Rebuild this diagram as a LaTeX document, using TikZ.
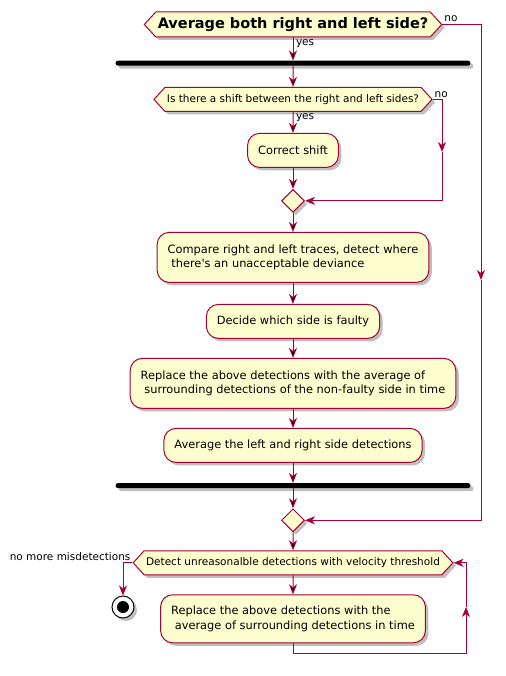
\documentclass[tikz,border=0pt]{standalone}
\usepackage{fontspec}
\setmainfont{DejaVu Sans}
\usetikzlibrary{positioning,shapes.symbols,shapes.geometric,arrows.meta,shadows}
\definecolor{umlred}{HTML}{A80036}
\definecolor{umlfill}{HTML}{FEFECE}

\begin{document}
\begin{tikzpicture}[x=1pt, y=-1pt, node distance=20pt,
    shade box/.style={drop shadow={shadow xshift=3pt, shadow yshift=-3pt, opacity=0.25, fill=black}},
    act node/.style={rectangle, rounded corners=12pt, draw=umlred, fill=umlfill, line width=1pt,
                     inner xsep=10.5pt, inner ysep=0pt, minimum height=34pt, align=left,
                     font=\fontsize{11.4}{14.3}\selectfont, shade box},
    test node/.style={signal, signal to=west and east, signal pointer angle=95, draw=umlred,
                      fill=umlfill, line width=1pt, inner xsep=2pt, inner ysep=0pt,
                      minimum height=24pt, font=\fontsize{10.5}{12.5}\selectfont, shade box},
    merge node/.style={diamond, draw=umlred, fill=umlfill, line width=1pt, inner sep=0pt,
                       minimum width=23pt, minimum height=23pt, shade box},
    bar node/.style={rectangle, fill=black, rounded corners=2.5pt, inner sep=0pt,
                     minimum width=355pt, minimum height=5pt, shade box},
    stop node/.style={circle, draw=black, fill=white, line width=1pt, inner sep=0pt,
                      minimum size=22pt, shade box,
                      path picture={\fill[black] (path picture bounding box.center) circle (6pt);}},
    label node/.style={font=\fontsize{10.5}{12.5}\selectfont, inner sep=1.5pt},
    flow/.style={draw=umlred, line width=1pt, -{Stealth[length=10pt, width=8pt, inset=3pt]}}]

  \useasboundingbox (0,0) rectangle (505,676);

  \node[test node, minimum height=25pt, font=\fontsize{14.5}{17}\selectfont\bfseries] (d1) at (293,24.5)
       {Average both right and left side?};
  \node[bar node] (bar1) [below=23pt of d1] {};
  \node[test node] (d2) [below=21pt of bar1] {Is there a shift between the right and left sides?};
  \node[act node] (shift) [below=21pt of d2] {Correct shift};
  \node[merge node] (m1) [below=21pt of shift] {};
  \node[act node, minimum height=50pt] (cmp) [below=19pt of m1]
       {Compare right and left traces, detect where\\\hspace*{0.32em}there\textquotesingle s an unacceptable deviance};
  \node[act node] (fault) [below=21pt of cmp] {Decide which side is faulty};
  \node[act node, minimum height=50pt] (rep1) [below=19pt of fault]
       {Replace the above detections with the average of\\\hspace*{0.32em}surrounding detections of the non-faulty side in time};
  \node[act node] (avg) [below=19pt of rep1] {Average the left and right side detections};
  \node[bar node] (bar2) [below=20pt of avg] {};
  \node[merge node] (m2) [below=20pt of bar2] {};
  \node[test node] (d3) [below=18pt of m2] {Detect unreasonalble detections with velocity threshold};
  \node[act node, minimum height=48pt] (rep2) [below=19pt of d3]
       {Replace the above detections with the\\\hspace*{0.32em}average of surrounding detections in time};
  \node[stop node] (stop) at (123,607) {};

  \coordinate (c1) at (481,280);
  \coordinate (c2) at (442,152);
  \coordinate (c3) at (466,607);
  \coordinate (lp) at ([yshift=-10pt]rep2.south);

  \path[flow]
    (d1) edge node[label node, pos=0, anchor=north west, xshift=1pt] {yes} (bar1)
    (bar1) edge (d2)
    (d2) edge node[label node, pos=0, anchor=north west, xshift=1pt] {yes} (shift)
    (shift) edge (m1)
    (m1) edge (cmp)
    (cmp) edge (fault)
    (fault) edge (rep1)
    (rep1) edge (avg)
    (avg) edge (bar2)
    (bar2) edge (m2)
    (m2) edge (d3)
    (d3) edge (rep2);

  \draw[flow] (d1.east) node[label node, anchor=south west, yshift=1pt] {no} -| (c1);
  \draw[flow] (c1) |- (m2.east);
  \draw[flow] (d2.east) node[label node, anchor=south west] {no} -| (c2);
  \draw[flow] (c2) |- (m1.east);
  \draw[flow] (d3.west) node[label node, anchor=south east] {no more misdetections} -| (stop);
  \draw[flow] (rep2.south) -- (lp) -| (c3);
  \draw[flow] (c3) |- (d3.east);

\end{tikzpicture}
\end{document}
